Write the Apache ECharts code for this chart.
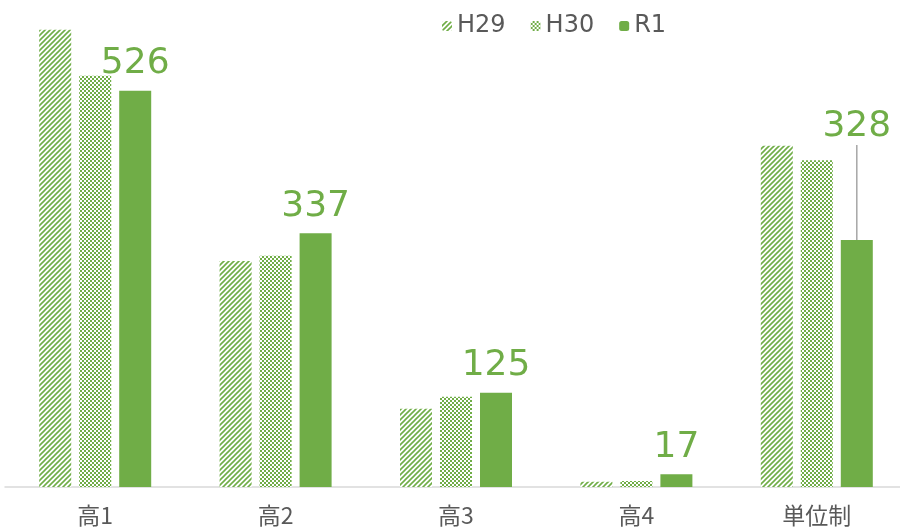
<!DOCTYPE html>
<html>
<head>
<meta charset="utf-8">
<script src="https://cdn.jsdelivr.net/npm/echarts@6/dist/echarts.min.js"></script>
<style>
  html, body { margin: 0; padding: 0; background: #fff; overflow: hidden; }
  #myChart { width: 910px; height: 529px; }
</style>
</head>
<body>
<div id="myChart"></div>
<script>
  var categories = ['高1', '高2', '高3', '高4', '単位制'];
  var h29 = [607, 300, 104, 7, 453];
  var h30 = [546, 307, 120, 8, 434];
  var r1 = [526, 337, 125, 17, 328];

  var green = '#70AD47';

  // diagonal hatch tile
  function makeDiag() {
    var c = document.createElement('canvas');
    c.width = 5; c.height = 5;
    var ctx = c.getContext('2d');
    ctx.fillStyle = '#fff';
    ctx.fillRect(0, 0, 5, 5);
    ctx.strokeStyle = green;
    ctx.lineWidth = 1.6;
    ctx.beginPath();
    ctx.moveTo(-1, 6); ctx.lineTo(6, -1);
    ctx.moveTo(-4, 4); ctx.lineTo(4, -4);
    ctx.moveTo(1, 9); ctx.lineTo(9, 1);
    ctx.stroke();
    return c;
  }
  // checker tile
  function makeCheck() {
    var c = document.createElement('canvas');
    c.width = 4; c.height = 4;
    var ctx = c.getContext('2d');
    ctx.fillStyle = green;
    ctx.fillRect(0, 0, 4, 4);
    ctx.fillStyle = '#fff';
    ctx.fillRect(0, 0, 2, 2);
    ctx.fillRect(2, 2, 2, 2);
    return c;
  }

  var r1Data = r1.map(function (v, i) {
    if (i === 4) {
      return { value: v, labelLine: { show: true } };
    }
    return v;
  });

  var myChart = echarts.init(document.getElementById('myChart'));
  myChart.setOption({
    animation: false,
    textStyle: { fontFamily: '"Noto Sans CJK JP", "Noto Sans", sans-serif' },
    legend: {
      top: 9,
      left: 437,
      itemWidth: 10,
      itemHeight: 10,
      itemGap: 25,
      textStyle: { color: '#595959', fontSize: 24, fontFamily: '"DejaVu Sans", sans-serif' },
      data: ['H29', 'H30', 'R1']
    },
    grid: { left: 5, width: 902, top: 5, bottom: 42, containLabel: false },
    xAxis: {
      type: 'category',
      data: categories,
      axisLine: { lineStyle: { color: '#d9d9d9', width: 1.5 } },
      axisTick: { show: false },
      axisLabel: { color: '#595959', fontSize: 23, margin: 17 }
    },
    yAxis: {
      type: 'value',
      min: 0,
      max: 640,
      show: false,
      splitLine: { show: false }
    },
    series: [
      {
        name: 'H29', type: 'bar', data: h29, barWidth: 32, barGap: '25%',
        itemStyle: { color: { image: makeDiag(), repeat: 'repeat' } }
      },
      {
        name: 'H30', type: 'bar', data: h30, barWidth: 32, barGap: '25%',
        itemStyle: { color: { image: makeCheck(), repeat: 'repeat' } }
      },
      {
        name: 'R1', type: 'bar', data: r1Data, barWidth: 32, barGap: '25%',
        itemStyle: { color: green },
        label: {
          show: true, position: 'top', distance: 9,
          color: green, fontSize: 36, fontFamily: '"DejaVu Sans", sans-serif'
        },
        labelLine: { show: false, lineStyle: { color: '#a6a6a6', width: 1.5 } },
        labelLayout: function (p) {
          if (p.dataIndex === 4) {
            return { dy: -86 };
          }
          return {};
        }
      }
    ]
  });
</script>
</body>
</html>
